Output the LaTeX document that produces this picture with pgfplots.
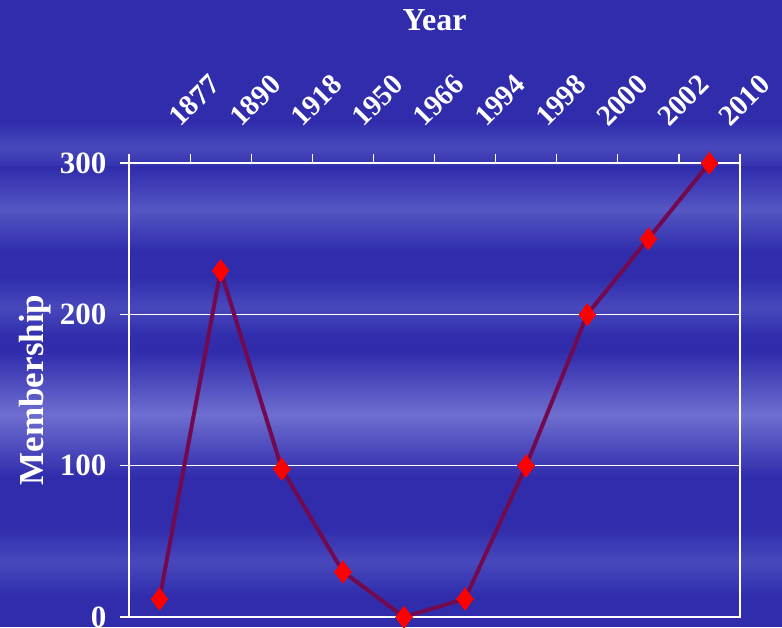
\documentclass[border=0pt]{standalone}
\usepackage{fontspec}
\setmainfont{Liberation Serif}
\usepackage{pgfplots}
\pgfplotsset{compat=1.18}
\definecolor{bg}{RGB}{48,44,172}
\definecolor{bandA}{RGB}{85,85,195}
\definecolor{bandB}{RGB}{110,110,208}
\definecolor{bandC}{RGB}{72,72,188}
\definecolor{linec}{RGB}{115,10,80}
\begin{document}
\begin{tikzpicture}[x=1pt,y=1pt]
\useasboundingbox (0,0) rectangle (782,627);
\fill[bg] (0,0) rectangle (782,627);
\shade[top color=bg, bottom color=bg, middle color=bandC] (0,455) rectangle (782,505);
\shade[top color=bg, bottom color=bg, middle color=bandA] (0,375) rectangle (782,460);
\shade[top color=bg, bottom color=bg, middle color=bandC] (0,290) rectangle (782,350);
\shade[top color=bg, bottom color=bg, middle color=bandB] (0,150) rectangle (782,275);
\shade[top color=bg, bottom color=bg, middle color=bandC] (0,30) rectangle (782,100);
\begin{axis}[
  at={(129pt,10pt)}, anchor=south west,
  scale only axis, width=611pt, height=454pt,
  xmin=0, xmax=10, ymin=0, ymax=300,
  clip=false,
  xtick={0.5,1.5,...,9.5},
  xticklabels={1877,1890,1918,1950,1966,1994,1998,2000,2002,2010},
  minor xtick={0,1,...,10},
  major x tick style={draw=none},
  minor x tick style={white, line width=1.2pt},
  minor tick length=9pt,
  major tick length=9pt,
  tick align=outside,
  xtick pos=right, xticklabel pos=right,
  ytick pos=left,
  ytick={0,100,200,300},
  ymajorgrids,
  grid style={white, line width=1.2pt},
  y tick style={white, line width=1.2pt},
  axis line style={white, line width=1.5pt},
  /pgf/number format/assume math mode=true,
  xticklabel shift=26pt,
  xticklabel style={white, rotate=45, anchor=south west, inner sep=0pt, xshift=15pt, yshift=-15pt, font=\fontsize{29}{32}\selectfont\bfseries},
  yticklabel style={white, font=\fontsize{31}{34}\selectfont\bfseries, xshift=-10pt},
  xlabel={Year},
  xlabel style={white, at={(axis description cs:0.5,1)}, anchor=center, yshift=143pt, font=\fontsize{32}{36}\selectfont\bfseries},
  ylabel={Membership},
  ylabel style={white, at={(axis description cs:-0.1538,0.5)}, anchor=center, font=\fontsize{35}{38}\selectfont\bfseries},
]
\addplot[linec, line width=4pt, mark=diamond*, mark size=11pt,
  mark options={fill=red, draw=red, line width=0pt, solid}]
  coordinates {(0.5,12) (1.5,229) (2.5,98) (3.5,30) (4.5,0) (5.5,12) (6.5,100) (7.5,200) (8.5,250) (9.5,300)};
\end{axis}
\end{tikzpicture}
\end{document}
